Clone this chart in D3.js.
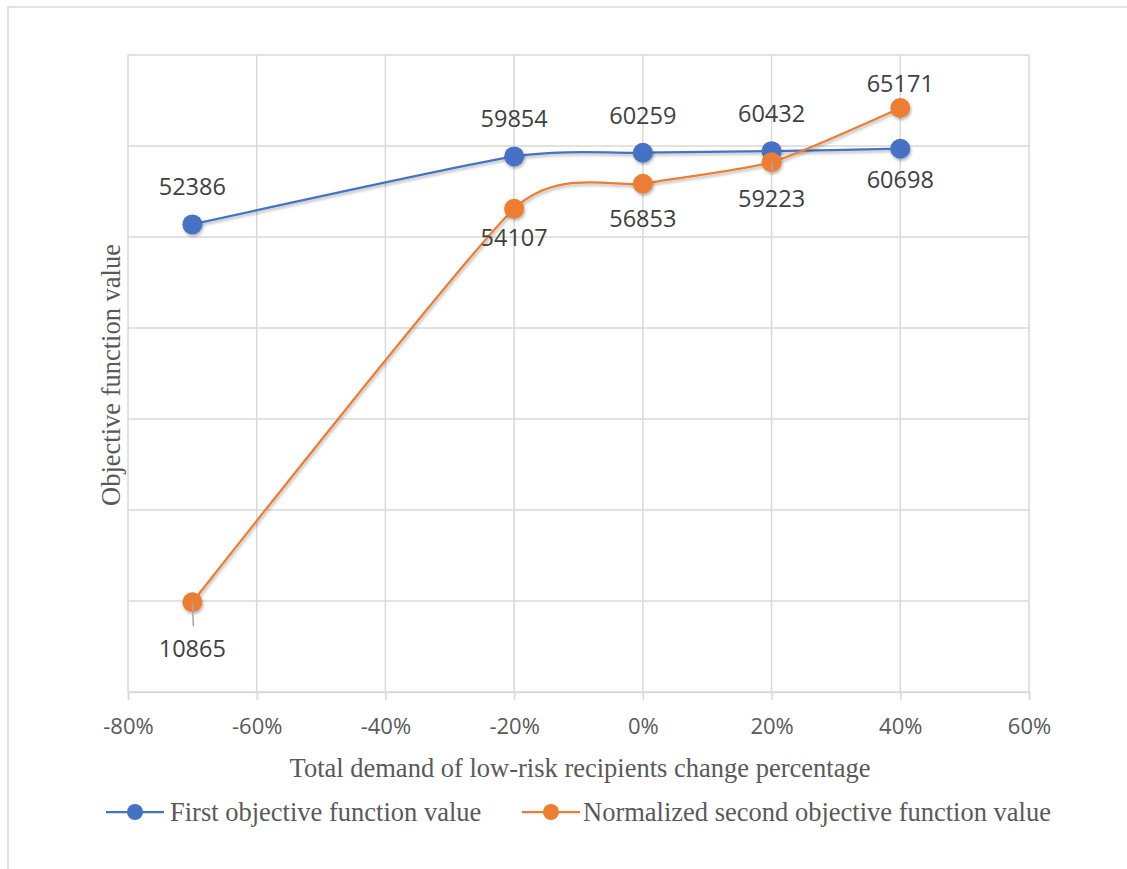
<!DOCTYPE html>
<html>
<head>
<meta charset="utf-8">
<script src="https://cdn.jsdelivr.net/npm/d3@7"></script>
<style>
  html, body { margin: 0; padding: 0; background: #fff; }
  svg { display: block; }
</style>
</head>
<body>
<svg id="chart" width="1127" height="869"></svg>
<script>
// ---- data ----
const categories = [-70, -20, 0, 20, 40];               // % change
const seriesNames = ["First objective function value", "Normalized second objective function value"];
const firstValues = [52386, 59854, 60259, 60432, 60698];
const secondValues = [10865, 54107, 56853, 59223, 65171];
const xTicks = [-80, -60, -40, -20, 0, 20, 40, 60];
const yGridValues = [1000, 11000, 21000, 31000, 41000, 51000, 61000, 71000];
const xTitle = "Total demand of low-risk recipients change percentage";
const yTitle = "Objective function value";

// ---- style / layout ----
const colors = ["#4472C4", "#ED7D31"];
const margin = { left: 128, right: 1029, top: 55, bottom: 692 };
const serif = "'Liberation Serif', 'Times New Roman', serif";
const sans = "'Open Sans', sans-serif";
// label offsets (px, relative to point) per series
const labelDy = [[-38, -38, -38, -38, 30], [46, 28, 34, 36, -25]];
const leaderLen = [[0, 0, 0, 0, 0], [24, 0, 0, 9, 0]];

const svg = d3.select("#chart");
const defs = svg.append("defs");
const f = defs.append("filter").attr("id", "shadow").attr("x", "-50%").attr("y", "-50%").attr("width", "200%").attr("height", "200%");
f.append("feDropShadow").attr("dx", 1).attr("dy", 2).attr("stdDeviation", 1.6).attr("flood-color", "#000").attr("flood-opacity", 0.3);

// outer border (top & left visible)
svg.append("rect").attr("x", 8).attr("y", 7).attr("width", 1140).attr("height", 880)
  .attr("fill", "none").attr("stroke", "#d9d9d9").attr("stroke-width", 1.5);

const x = d3.scaleLinear().domain([-80, 60]).range([margin.left, margin.right]);
const y = d3.scaleLinear().domain([1000, 71000]).range([margin.bottom, margin.top]);

// grid
const grid = svg.append("g");
grid.selectAll(".hg").data(yGridValues).join("line")
  .attr("x1", margin.left).attr("x2", margin.right)
  .attr("y1", d => y(d)).attr("y2", d => y(d))
  .attr("stroke", "#d9d9d9").attr("stroke-width", 1.5);
grid.selectAll(".vg").data(xTicks).join("line")
  .attr("x1", d => x(d)).attr("x2", d => x(d))
  .attr("y1", margin.top).attr("y2", margin.bottom)
  .attr("stroke", "#d9d9d9").attr("stroke-width", 1.5);

// x axis
const xAxis = d3.axisBottom(x).tickValues(xTicks).tickFormat(d => d + "%").tickSize(8).tickPadding(18);
const xg = svg.append("g").attr("transform", `translate(0,${margin.bottom})`).call(xAxis);
xg.select(".domain").attr("stroke", "#d9d9d9").attr("stroke-width", 1.5);
xg.selectAll(".tick line").attr("stroke", "#d9d9d9").attr("stroke-width", 1.5);
xg.selectAll(".tick text").attr("font-family", sans).attr("font-size", 22)
  .attr("fill", "#595959");

// axis titles
svg.append("text").attr("x", 580).attr("y", 777)
  .attr("text-anchor", "middle").attr("font-family", serif)
  .attr("font-size", 26.5).attr("fill", "#595959").text(xTitle);
svg.append("text").attr("transform", "translate(120,375) rotate(-90)")
  .attr("text-anchor", "middle").attr("font-family", serif)
  .attr("font-size", 26.5).attr("fill", "#595959").text(yTitle);

// series
const allSeries = [firstValues, secondValues];
const line = d3.line().x(d => x(d[0])).y(d => y(d[1])).curve(d3.curveCardinal.tension(0.4));

allSeries.forEach((vals, si) => {
  const pts = categories.map((c, i) => [c, vals[i]]);
  const g = svg.append("g");
  g.append("path").datum(pts).attr("d", line).attr("fill", "none")
    .attr("stroke", colors[si]).attr("stroke-width", 2.25).attr("filter", "url(#shadow)");
  g.selectAll("circle").data(pts).join("circle")
    .attr("cx", d => x(d[0])).attr("cy", d => y(d[1])).attr("r", 10)
    .attr("fill", colors[si]).attr("filter", "url(#shadow)");
});

// leader lines and labels
allSeries.forEach((vals, si) => {
  categories.forEach((c, i) => {
    const px = x(c), py = y(vals[i]);
    if (leaderLen[si][i] > 0) {
      svg.append("line").attr("x1", px).attr("x2", px + 1).attr("y1", py).attr("y2", py + leaderLen[si][i])
        .attr("stroke", "#a6a6a6").attr("stroke-width", 1.5);
    }
    svg.append("text").attr("x", px).attr("y", py + labelDy[si][i])
      .attr("text-anchor", "middle").attr("dominant-baseline", "central")
      .attr("font-family", sans).attr("font-size", 23.5)
      .attr("fill", "#404040").text(vals[i].toString());
  });
});

// legend
const legendItems = [{ lx: 106, tx: 170 }, { lx: 522, tx: 583 }];
legendItems.forEach((it, i) => {
  const g = svg.append("g");
  g.append("line").attr("x1", it.lx).attr("x2", it.lx + 58).attr("y1", 812).attr("y2", 812)
    .attr("stroke", colors[i]).attr("stroke-width", 2.25);
  g.append("circle").attr("cx", it.lx + 29).attr("cy", 812).attr("r", 8).attr("fill", colors[i]);
  g.append("text").attr("x", it.tx).attr("y", 812).attr("dominant-baseline", "central")
    .attr("font-family", serif).attr("font-size", 26.5)
    .attr("fill", "#595959").text(seriesNames[i]);
});
</script>
</body>
</html>
